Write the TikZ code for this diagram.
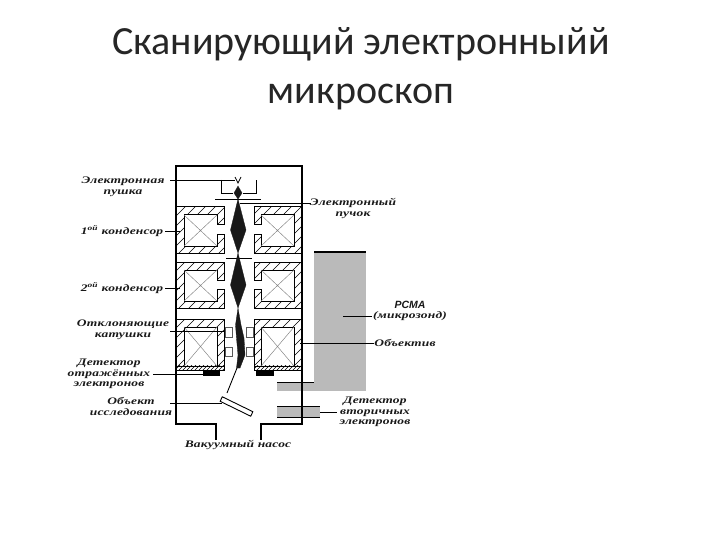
\documentclass[tikz,border=0pt]{standalone}
\usepackage{fontspec}
\setmainfont{Carlito}
\newfontfamily\handfont[FakeStretch=1.35,LetterSpace=2]{Liberation Serif}
\newfontfamily\plainfont{Liberation Sans}
\tikzset{
  lbl/.style={font=\handfont\itshape\bfseries\fontsize{10}{10.5}\selectfont, align=center, inner sep=0pt, text=black!90},
  lead/.style={draw=black, line width=0.9pt},
  wall/.style={draw=black, line width=1.3pt},
  yoke/.style={draw=black, line width=1pt},
  hatchline/.style={draw=black, line width=0.6pt},
  coil/.style={draw=black!50, line width=0.45pt},
  smallbox/.style={draw=black!65, line width=0.6pt, fill=white},
  beam/.style={fill=black!90, draw=black!90, line width=0.3pt},
  graypart/.style={fill=black!27, draw=none}
}
% #1 x, #2 y, #3 mirror (1 or -1)
\newcommand{\lensNotch}[3]{%
  \begin{scope}[shift={(#1,#2)}, xscale=#3]
    \begin{scope}
      \clip (0,0) -- (48,0) -- (48,18) -- (41,18) -- (41,8) -- (8,8) -- (8,39) -- (41,39) -- (41,27) -- (48,27) -- (48,46) -- (0,46) -- cycle;
      \foreach \t in {-50,-40,...,110}{\draw[hatchline] (\t,-1) -- ({\t-#3*50},49);}
    \end{scope}
    \draw[yoke] (0,0) -- (48,0) -- (48,18) -- (41,18) -- (41,8) -- (8,8) -- (8,39) -- (41,39) -- (41,27) -- (48,27) -- (48,46) -- (0,46) -- cycle;
    \draw[coil] (8,8) -- (41,39) (41,8) -- (8,39);
  \end{scope}}
\newcommand{\lensObj}[3]{%
  \begin{scope}[shift={(#1,#2)}, xscale=#3]
    \begin{scope}
      \clip (0,0) -- (48,0) -- (48,47) -- (41,47) -- (41,8) -- (8,8) -- (8,47) -- (0,47) -- cycle;
      \foreach \t in {-50,-40,...,110}{\draw[hatchline] (\t,-1) -- ({\t-#3*50},49);}
    \end{scope}
    \begin{scope}
      \clip (0,46) rectangle (48,51);
      \foreach \t in {-50,-46,...,110}{\draw[hatchline] (\t,44) -- ({\t-#3*8},52);}
    \end{scope}
    \draw[yoke] (0,0) rectangle (48,51);
    \draw[yoke] (0,47) -- (48,47);
    \draw[yoke] (8,47) -- (8,8) -- (41,8) -- (41,47);
    \draw[coil] (8,8) -- (41,47) (41,8) -- (8,47);
  \end{scope}}
\begin{document}
\begin{tikzpicture}[x=1pt,y=-1pt]
\useasboundingbox (0,0) rectangle (720,540);
\fill[white] (0,0) rectangle (720,540);

\node[font=\fontsize{40}{49}\selectfont, align=center, text=black!85, inner sep=0pt] (title) at (361,69)
  {Сканирующий электронныйй\\микроскоп};

% gray parts
\fill[graypart] (314,252) rectangle (366,391);
\fill[graypart] (277,382) rectangle (366,391);
\fill[graypart] (277,406) rectangle (320,417);
\draw[wall] (314,252) -- (366,252);
\draw[draw=black, line width=0.8pt] (277,382) -- (314,382);
\draw[draw=black, line width=0.9pt] (277,406) -- (320,406) (277,417) -- (320,417);

% column
\draw[wall] (216,440) -- (216,424) -- (176,424) -- (176,166) -- (302,166) -- (302,424) -- (261,424) -- (261,440);

% lenses
\lensNotch{176}{207}{1}
\lensNotch{302}{207}{-1}
\lensNotch{176}{262}{1}
\lensNotch{302}{262}{-1}
\lensObj{176}{319}{1}
\lensObj{302}{319}{-1}

% electron gun
\draw[draw=black, line width=0.9pt] (221,180) -- (221,193) -- (233,193) (243,193) -- (256,193) -- (256,180);
\draw[draw=black, line width=0.7pt] (235,177) -- (238,183) -- (241,177);
\draw[draw=black, line width=0.9pt] (215,199) -- (261,199);
\draw[draw=black, line width=0.8pt] (226,258) -- (252,258);

% beam
\fill[beam] (238,186) -- (234,193) -- (238,199) -- (242,193) -- cycle;
\fill[beam] (238,199) -- (230.5,230) -- (238,253) -- (246,230) -- cycle;
\fill[beam] (238,253) -- (230.5,285) -- (238,308) -- (246,285) -- cycle;
\fill[beam] (238,308) -- (235.5,325) -- (236.5,338) -- (238,355) -- (236.5,368) -- (240,368) -- (245,355) -- (244,338) -- (241,325) -- cycle;

% deflection coils
\draw[smallbox] (225,327) rectangle (232,337);
\draw[smallbox] (225,347) rectangle (232,356);
\draw[smallbox] (246,327) rectangle (253,337);
\draw[smallbox] (246,347) rectangle (253,356);

% BSE detector
\fill[black] (203,370) rectangle (220,376);
\fill[black] (256,370) rectangle (274,376);

% specimen
\node[draw=black, line width=0.9pt, fill=white, minimum width=34pt, minimum height=5pt, inner sep=0pt, rotate=-26] (specimen) at (236.5,406.5) {};

% scattered beam to specimen
\coordinate (spot) at (237,368);
\coordinate (hit) at (227,393);
\draw[draw=black, line width=0.9pt] (spot) -- (hit);

% labels
\node[lbl] (gun) at (123,187) {Электронная\\пушка};
\node[lbl] (c1) at (122,231) {1\textsuperscript{ой} конденсор};
\node[lbl] (c2) at (122,288) {2\textsuperscript{ой} конденсор};
\node[lbl] (defl) at (123,330) {Отклоняющие\\катушки};
\node[lbl] (bse) at (109,374) {Детектор\\отражённых\\электронов};
\node[lbl] (obj) at (131,406.5) {Объект\\исследования};
\node[lbl] (vac) at (238,445) {Вакуумный насос};
\node[lbl] (ebeam) at (353,208.5) {Электронный\\пучок};
\node[lbl] (pcma) at (410,311) {{\plainfont\fontsize{10.5}{10.5}\selectfont РСМА}\\(микрозонд)};
\node[lbl] (lens) at (405,343) {Объектив};
\node[lbl] (se) at (375,412) {Детектор\\вторичных\\электронов};

% leaders
\coordinate (gunA) at (170,180); \coordinate (gunB) at (235,180);
\draw[lead] (gunA) -- (gunB);
\coordinate (c1B) at (180,231);
\draw[lead] (c1.east) ++(2,0) -- (c1B);
\coordinate (c2B) at (180,288);
\draw[lead] (c2.east) ++(2,0) -- (c2B);
\coordinate (deflA) at (170,331); \coordinate (deflB) at (225,331);
\draw[lead] (deflA) -- (deflB);
\coordinate (bseA) at (153,374); \coordinate (bseB) at (203,374);
\draw[lead] (bseA) -- (bseB);
\coordinate (objA) at (170,403); \coordinate (objB) at (222,403);
\draw[lead] (objA) -- (objB);
\coordinate (ebA) at (240,203); \coordinate (ebB) at (311,203);
\draw[lead] (ebA) -- (ebB);
\coordinate (pcA) at (343,316); \coordinate (pcB) at (372,316);
\draw[lead] (pcA) -- (pcB);
\coordinate (lensA) at (300,343);
\draw[lead] (lensA) -- (lens.west);
\coordinate (seA) at (320,412); \coordinate (seB) at (337,412);
\draw[lead] (seA) -- (seB);
\end{tikzpicture}
\end{document}
